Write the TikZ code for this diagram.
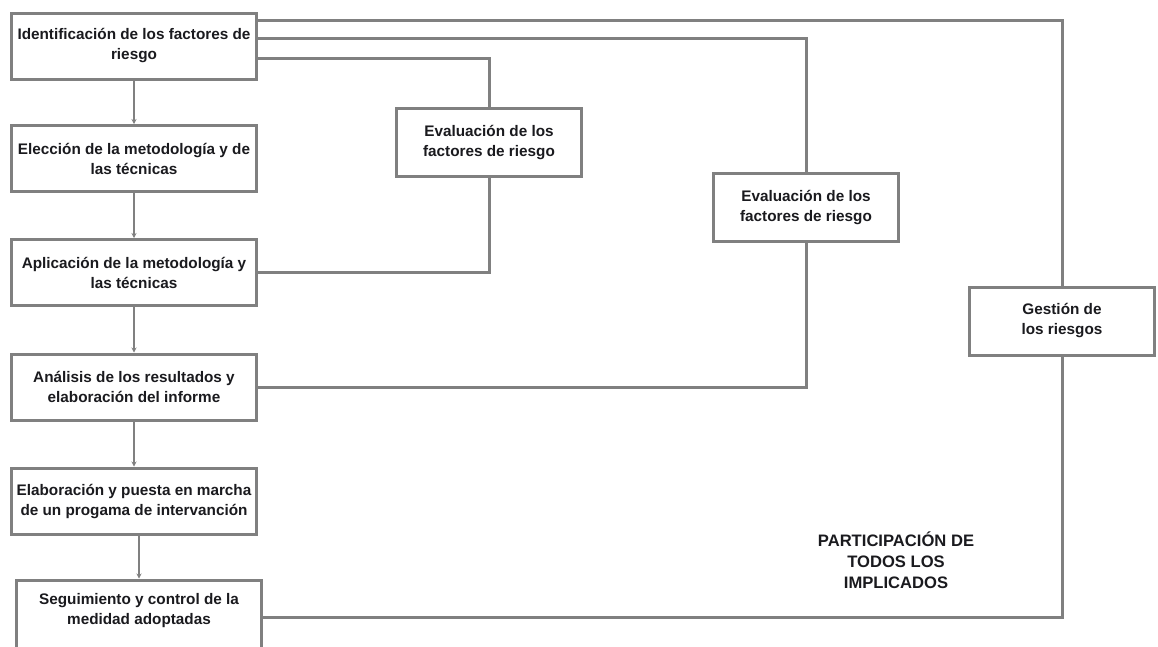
\documentclass[tikz,border=0pt]{standalone}
\usepackage{fontspec}
\setmainfont{Liberation Sans}
\usetikzlibrary{arrows.meta}
\definecolor{linea}{RGB}{128,128,128}
\definecolor{texto}{RGB}{26,26,30}

\begin{document}
\begin{tikzpicture}[x=1pt,y=-1pt,
    caja/.style={draw=linea,line width=3pt,fill=white,align=center,inner sep=2pt,
        text=texto,font=\fontsize{15.3}{20}\selectfont\bfseries},
    izq/.style={caja,minimum width=245pt,minimum height=66pt},
    der/.style={caja,minimum width=185pt,minimum height=68pt},
    enlace/.style={draw=linea,line width=3pt},
    flecha/.style={draw=linea,line width=1.3pt,-{Stealth[length=5pt,width=5pt]}}]
    \useasboundingbox (0,0) rectangle (1158,646);
    \clip (0,0) rectangle (1158,646);
    % columna de pasos
    \node[izq] (ident) at (134,46) {Identificación de los factores de\\riesgo};
    \node[izq] (elec) at (134,158.5) {Elección de la metodología y de\\las técnicas};
    \node[izq] (aplic) at (134,272.5) {Aplicación de la metodología y\\las técnicas};
    \node[izq] (anal) at (134,387) {Análisis de los resultados y\\elaboración del informe};
    \node[izq] (elab) at (134,501) {Elaboración y puesta en marcha\\de un progama de intervanción};
    \node[izq,minimum height=74pt,text depth=16pt] (segu) at (139,617) {Seguimiento y control de la\\medidad adoptadas};
    % cajas de la derecha
    \node[der] (eval1) at (489,142.5) {Evaluación de los\\factores de riesgo};
    \node[der] (eval2) at (806,207.5) {Evaluación de los\\factores de riesgo};
    \node[der] (gest) at (1062,321) {Gestión de\\los riesgos};
    \node[text=texto,align=center,font=\fontsize{16.6}{21}\selectfont\bfseries] (part) at (896,560)
        {PARTICIPACIÓN DE\\TODOS LOS\\IMPLICADOS};
    % flechas
    \draw[flecha] (ident) -- (elec);
    \draw[flecha] (elec) -- (aplic);
    \draw[flecha] (aplic) -- (anal);
    \draw[flecha] (anal) -- (elab);
    \draw[flecha] (elab.south -| segu.north) -- (segu.north);
    % lineas de union
    \draw[enlace] ([yshift=-9pt]ident.north east) -| (gest.north);
    \draw[enlace] ([yshift=-27pt]ident.north east) -| (eval2.north);
    \draw[enlace] ([yshift=-47pt]ident.north east) -| (eval1.north);
    \draw[enlace] (eval1.south) |- (aplic.east);
    \draw[enlace] (eval2.south) |- (anal.east);
    \draw[enlace] (gest.south) |- (segu.east);
\end{tikzpicture}
\end{document}
